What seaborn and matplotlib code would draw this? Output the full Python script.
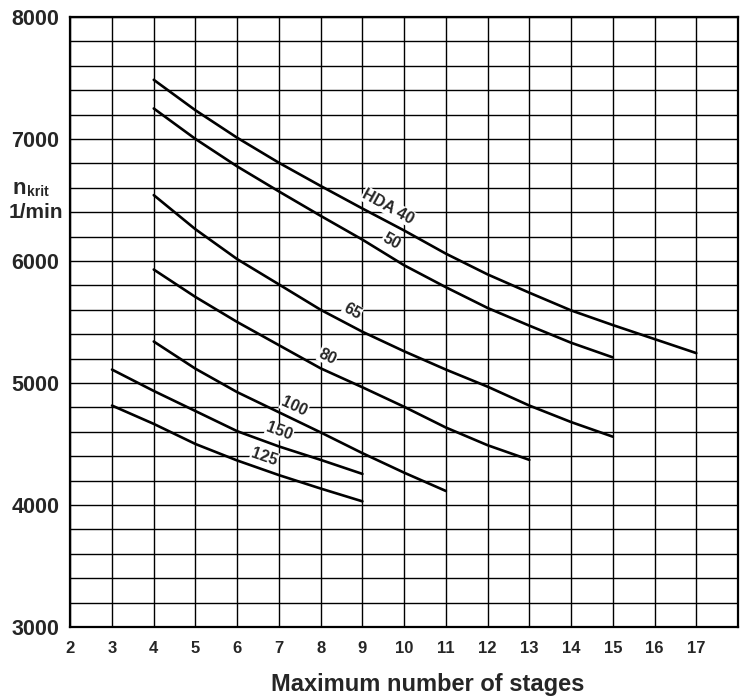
import pandas as pd
import matplotlib.pyplot as plt
import seaborn as sns
from matplotlib.ticker import MultipleLocator

sns.set_style('white')
plt.rcParams['font.family'] = ['Liberation Sans', 'DejaVu Sans']

# critical speed (1/min) vs. maximum number of stages, per pump size
stages_40 = list(range(4, 18))
n_40 = [7485, 7235, 7010, 6805, 6615, 6430, 6250, 6060, 5890, 5740, 5595, 5475, 5360, 5245]
stages_50 = list(range(4, 16))
n_50 = [7250, 7000, 6775, 6570, 6370, 6175, 5965, 5785, 5615, 5470, 5330, 5210]
stages_65 = list(range(4, 16))
n_65 = [6540, 6260, 6015, 5808, 5600, 5420, 5260, 5110, 4970, 4815, 4680, 4560]
stages_80 = list(range(4, 14))
n_80 = [5930, 5705, 5500, 5310, 5120, 4965, 4805, 4635, 4490, 4370]
stages_100 = list(range(4, 12))
n_100 = [5340, 5117, 4925, 4760, 4595, 4425, 4265, 4115]
stages_150 = list(range(3, 10))
n_150 = [5110, 4935, 4770, 4605, 4480, 4370, 4255]
stages_125 = list(range(3, 10))
n_125 = [4815, 4665, 4500, 4365, 4245, 4135, 4030]

sizes = ['HDA 40', '50', '65', '80', '100', '150', '125']
all_stages = [stages_40, stages_50, stages_65, stages_80, stages_100, stages_150, stages_125]
all_n = [n_40, n_50, n_65, n_80, n_100, n_150, n_125]

# where the curve labels sit (stages, n) and their angle
label_x = [9.62, 9.69, 8.75, 8.17, 7.37, 7.01, 6.65]
label_y = [6445, 6158, 5590, 5218, 4808, 4600, 4395]
label_rot = [-29, -29, -29, -26, -25, -20, -19]

rows = []
for name, xs, ys in zip(sizes, all_stages, all_n):
    for x, y in zip(xs, ys):
        rows.append({'size': name, 'stages': x, 'n': y})
df = pd.DataFrame(rows)

fig = plt.figure(figsize=(7.43, 6.96), dpi=100)
ax = fig.add_axes([0.0946, 0.0991, 0.8987, 0.8765])

sns.lineplot(data=df, x='stages', y='n', units='size', estimator=None,
             color='black', linewidth=1.9, ax=ax, zorder=3)

ax.set_xlim(2, 18)
ax.set_ylim(3000, 8000)
ax.xaxis.set_major_locator(MultipleLocator(1))
ax.yaxis.set_major_locator(MultipleLocator(1000))
ax.yaxis.set_minor_locator(MultipleLocator(200))
ax.grid(which='both', color='black', linewidth=1.0)
ax.set_axisbelow(True)
for s in ax.spines.values():
    s.set_color('black')
    s.set_linewidth(1.6)

xt = list(range(2, 19))
ax.set_xticks(xt)
ax.set_xticklabels([str(v) if v < 18 else '' for v in xt], fontsize=12, fontweight='bold')
ax.set_yticks([3000, 4000, 5000, 6000, 7000, 8000])
ax.set_yticklabels(['3000', '4000', '5000', '6000', '7000', '8000'], fontsize=15.5, fontweight='bold')
ax.tick_params(axis='both', which='both', length=0)
ax.tick_params(axis='x', pad=10)
ax.tick_params(axis='y', pad=8)
ax.set_xlabel('')
ax.set_ylabel('')

for name, lx, ly, r in zip(sizes, label_x, label_y, label_rot):
    ax.text(lx, ly, name, rotation=r, rotation_mode='anchor', ha='center', va='center',
            fontsize=11.5, fontweight='bold', zorder=2.5,
            bbox=dict(facecolor='white', edgecolor='none', pad=0.5))

fig.text(12 / 743, 1 - 188 / 696, 'n', fontsize=16, fontweight='bold', ha='left', va='center')
fig.text(27 / 743, 1 - 192 / 696, 'krit', fontsize=10, fontweight='bold', ha='left', va='center')
fig.text(9 / 743, 1 - 213 / 696, '1/min', fontsize=15, fontweight='bold', ha='left', va='center')
fig.text(428 / 743, 1 - 684 / 696, 'Maximum number of stages', fontsize=17,
         fontweight='bold', ha='center', va='center')

fig.savefig('out.png', dpi=100)
